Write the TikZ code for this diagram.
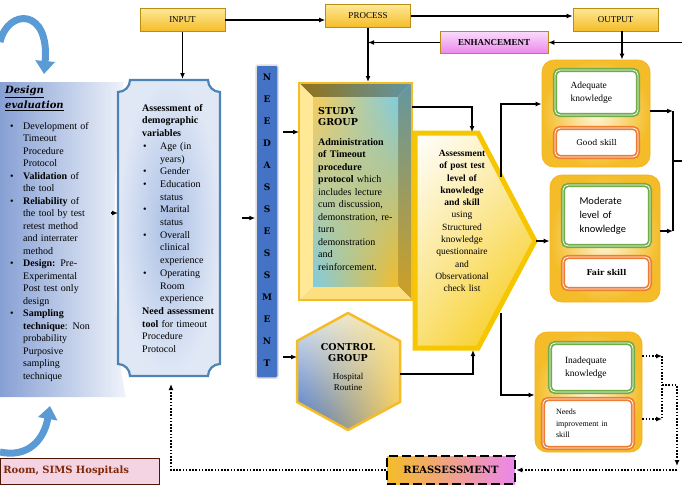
\documentclass[tikz,border=0pt]{standalone}
\usepackage{fontspec}
\setmainfont{Liberation Serif}
\newfontfamily\gruesa{DejaVu Serif}
\newfontfamily\calibri{Carlito}
\usetikzlibrary{arrows.meta,shadings}

\definecolor{oro}{RGB}{244,188,40}
\definecolor{oroclaro}{RGB}{255,232,150}
\definecolor{orooscuro}{RGB}{185,140,20}
\definecolor{rosa}{RGB}{236,135,236}
\definecolor{rosapalido}{RGB}{244,212,226}
\definecolor{azulfuerte}{RGB}{68,114,196}
\definecolor{azulmedio}{RGB}{91,155,213}
\definecolor{azuldiseno}{RGB}{135,160,212}
\definecolor{azulpalido}{RGB}{224,232,246}
\definecolor{verdecaja}{RGB}{112,173,71}
\definecolor{naranjacaja}{RGB}{237,125,49}
\definecolor{amarillo}{RGB}{246,198,0}
\definecolor{turquesa}{RGB}{128,204,224}
\definecolor{marron}{RGB}{128,40,10}

% vineta con sangria colgante
\newcommand{\punto}[2][1pt]{\par\hangindent=18pt\hangafter=1\noindent\makebox[18pt][l]{\hspace{#1}\textbullet}#2}

\begin{document}
\begin{tikzpicture}[x=1pt, y=-1pt,
  caja/.style={draw=orooscuro, line width=0.6pt, top color=oroclaro, bottom color=oro,
    minimum width=85pt, minimum height=23pt, inner sep=0pt, font=\fontsize{9}{9}\selectfont},
  flecha/.style={line width=1.3pt, -{Latex[length=6pt,width=5pt]}},
  linea/.style={line width=1.3pt},
  puntos/.style={line width=1.6pt, dash pattern=on 1.6pt off 1.6pt, -{Latex[length=6pt,width=5pt]}},
  texto/.style={inner sep=0pt, align=left, font=\fontsize{10}{12.5}\selectfont},
  letra/.style={inner sep=0pt, font=\gruesa\bfseries\fontsize{9}{9}\selectfont},
  exterior/.style={rounded corners=12pt, inner color=oroclaro!35!white, outer color=oro,
    draw=oro!85!orange, line width=0.8pt, inner sep=0pt},
  verdebox/.style={draw=verdecaja, double=white, double distance=0.8pt, line width=1.7pt,
    fill=white, rounded corners=5pt, inner sep=0pt},
  naranjabox/.style={draw=naranjacaja, double=white, double distance=0.8pt, line width=1.7pt,
    fill=white, rounded corners=5pt, inner sep=0pt}
]
\useasboundingbox (0,0) rectangle (682,498);

  % ==========================================
  % 1. FLECHAS CURVAS Y CAJA DE DISENO
  % ==========================================
  \draw[azulmedio, line width=7pt, -{Triangle[length=13pt,width=19pt]}]
    (0,42) .. controls (8,8) and (50,8) .. (44,74);
  \draw[azulmedio, line width=7pt, -{Triangle[length=13pt,width=19pt]}]
    (0,452) .. controls (28,458) and (44,440) .. (50,406);

  \shade[left color=azuldiseno, right color=azulpalido!50!white]
    (0,82) -- (124,82) .. controls (112,140) and (110,330) .. (126,397) -- (0,397) -- cycle;

  \node[texto, text width=95pt, anchor=north west] (design) at (5,86) {%
    {\gruesa\bfseries\itshape\fontsize{10}{15}\selectfont\underline{Design}\\\underline{evaluation}\par}
    \vspace{8pt}
    \punto[5pt]{Development of\newline Timeout\newline Procedure\newline Protocol}
    \punto[5pt]{\textbf{Validation} of\newline the tool}
    \punto[5pt]{\textbf{Reliability} of\newline the tool by test\newline retest method\newline and interrater\newline method}
    \punto[5pt]{\textbf{Design:} Pre-\newline Experimental\newline Post test only\newline design}
    \punto[5pt]{\textbf{Sampling}\newline\textbf{technique}: Non\newline probability\newline Purposive\newline sampling\newline technique}\par};

  % ==========================================
  % 2. VARIABLES DEMOGRAFICAS Y COLUMNA
  % ==========================================
  \shade[draw=azulmedio!85!black, line width=2.2pt, inner color=azulfuerte!45!white, outer color=azulpalido]
    (130,80) -- (208,80) arc[start angle=180, end angle=90, radius=12]
    -- (220,364) arc[start angle=270, end angle=180, radius=12]
    -- (130,376) arc[start angle=360, end angle=270, radius=12]
    -- (118,92) arc[start angle=90, end angle=0, radius=12] -- cycle;

  \node[texto, text width=82pt, anchor=north west, font=\fontsize{10}{12.7}\selectfont] (assess) at (142,104) {%
    \textbf{Assessment of\newline demographic\newline variables}
    \punto{Age (in\newline years)}
    \punto{Gender}
    \punto{Education\newline status}
    \punto{Marital\newline status}
    \punto{Overall\newline clinical\newline experience}
    \punto{Operating\newline Room\newline experience}
    \par\noindent\textbf{Need assessment}\newline\textbf{tool} for timeout\newline Procedure\newline Protocol\par};

  \node[draw=gray!25, line width=1.5pt, fill=azulfuerte, rounded corners=2pt,
    minimum width=22pt, minimum height=313pt, inner sep=0pt] (needs) at (267,221.5) {};
  \foreach \car [count=\i] in {N,E,E,D,A,S,S,E,S,S,M,E,N,T}
    \node[letra] (n\i) at (267,{55+22*\i}) {\car};

  % ==========================================
  % 3. GRUPO DE ESTUDIO (marco biselado)
  % ==========================================
  \shade[left color=oro!60!black, right color={rgb,255:red,95;green,150;blue,165}]
    (299,83) -- (412,83) -- (398,97) -- (313,97) -- cycle;
  \shade[top color={rgb,255:red,100;green,150;blue,160}, bottom color=oro!85!black]
    (412,83) -- (412,300) -- (398,286) -- (398,97) -- cycle;
  \fill[oroclaro!80!oro] (299,300) -- (412,300) -- (398,286) -- (313,286) -- cycle;
  \fill[oroclaro] (299,83) -- (313,97) -- (313,286) -- (299,300) -- cycle;
  \shade[upper left=oro!75!white, upper right=turquesa, lower left=turquesa, lower right=oro]
    (313,97) rectangle (398,286);
  \draw[oro, line width=1.2pt] (299,83) rectangle (412,300);

  \node[texto, text width=82pt, anchor=north west] (study) at (318,107) {%
    {\gruesa\bfseries\fontsize{9.5}{11.5}\selectfont STUDY\\GROUP\par}
    \vspace{7pt}
    \textbf{Administration}\newline\textbf{of Timeout}\newline\textbf{procedure}\newline\textbf{protocol} which\newline includes lecture\newline cum discussion,\newline demonstration, re-\newline turn\newline demonstration\newline and\newline reinforcement.\par};

  % ==========================================
  % 4. GRUPO CONTROL (hexagono)
  % ==========================================
  \shade[upper left=azulpalido, upper right=oroclaro, lower left=azulfuerte, lower right=oro!80!white]
    (348,313) -- (400,341) -- (400,402) -- (348,430) -- (297,402) -- (297,341) -- cycle;
  \draw[oro, line width=2.5pt, line join=round]
    (348,313) -- (400,341) -- (400,402) -- (348,430) -- (297,402) -- (297,341) -- cycle;
  \node[inner sep=0pt, text width=90pt, align=center] (control) at (348,367) {%
    {\gruesa\bfseries\fontsize{9.5}{11.5}\selectfont CONTROL\\GROUP\par}
    \vspace{7pt}
    {\fontsize{9}{11}\selectfont Hospital\\Routine\par}};

  % ==========================================
  % 5. EVALUACION POST TEST (pentagono)
  % ==========================================
  \shade[upper left=white, upper right=amarillo!30!white, lower left=amarillo!55!white, lower right=amarillo]
    (415,133) -- (478,133) -- (535,241) -- (478,348) -- (415,348) -- cycle;
  \draw[amarillo, line width=5pt, line join=miter]
    (415,133) -- (478,133) -- (535,241) -- (478,348) -- (415,348) -- cycle;
  \node[inner sep=0pt, text width=68pt, align=center, font=\fontsize{9.5}{12.3}\selectfont] (posttest) at (462,221) {%
    \textbf{Assessment\\of post test\\level of\\knowledge\\and skill}\\using\\Structured\\knowledge\\questionnaire\\and\\Observational\\check list};

  % ==========================================
  % 6. CAJAS DE RESULTADO
  % ==========================================
  \node[exterior, minimum width=108pt, minimum height=107pt] (adequate) at (596,113.5) {};
  \node[verdebox, minimum width=83pt, minimum height=45pt, text width=52pt, align=left,
    font=\fontsize{9.5}{13}\selectfont] (adeqK) at (596.5,92.5) {Adequate\\knowledge};
  \node[naranjabox, minimum width=83pt, minimum height=29pt,
    font=\gruesa\fontsize{8}{8}\selectfont] (adeqS) at (596.5,142.5) {Good skill};

  \node[exterior, minimum width=110pt, minimum height=127pt] (moderate) at (605,238.5) {};
  \node[verdebox, minimum width=87pt, minimum height=61pt, text width=54pt, align=left,
    font=\calibri\fontsize{10.5}{14}\selectfont] (modK) at (606.5,215.5) {Moderate\\level of\\knowledge};
  \node[naranjabox, minimum width=87pt, minimum height=32pt,
    font=\gruesa\bfseries\fontsize{8}{8}\selectfont] (modS) at (606.5,273) {Fair skill};

  \node[exterior, minimum width=107pt, minimum height=120pt] (inadequate) at (588.5,392) {};
  \node[verdebox, minimum width=83pt, minimum height=49pt, text width=53pt, align=left,
    font=\fontsize{9.5}{13}\selectfont] (inadK) at (591.5,367.5) {Inadequate\\knowledge};
  \node[naranjabox, minimum width=90pt, minimum height=49pt, text width=64pt, align=left,
    font=\fontsize{8}{11.5}\selectfont] (inadS) at (588,423.5) {Needs\\improvement in\\skill};

  % ==========================================
  % 7. CAJAS SUPERIORES E INFERIORES
  % ==========================================
  \node[caja] (input) at (182.5,20) {INPUT};
  \node[caja] (process) at (368,16) {PROCESS};
  \node[caja] (output) at (615.5,19.5) {OUTPUT};
  \node[caja, top color=rosa!30!white, bottom color=rosa, minimum width=108pt, minimum height=22pt,
    font=\bfseries\fontsize{9}{9}\selectfont] (enhance) at (494,42.5) {ENHANCEMENT};

  \node[draw=black, line width=2.5pt, dash pattern=on 9pt off 4pt, left color=oro, right color=rosa,
    minimum width=128pt, minimum height=28pt, inner sep=0pt,
    font=\gruesa\bfseries\fontsize{10}{10}\selectfont] (reassess) at (451,470) {REASSESSMENT};
  \node[draw=marron!60!black, line width=0.8pt, fill=rosapalido, text=marron, text width=153pt,
    align=left, minimum height=26pt, inner xsep=3pt, inner ysep=0pt, anchor=west,
    font=\gruesa\bfseries\fontsize{10}{10}\selectfont] (room) at (0,471) {Room, SIMS Hospitals};

  % ==========================================
  % 8. CONECTORES
  % ==========================================
  \coordinate (plaqueN) at (182.5,79);
  \coordinate (plaqueW) at (118,213);
  \coordinate (plaqueE) at (220,218);
  \coordinate (designE) at (111,213);
  \coordinate (studyN) at (368,82);
  \coordinate (studyW) at (299,132);
  \coordinate (studyE) at (412,107);
  \coordinate (ctrlW) at (297,357);
  \coordinate (ctrlE) at (400,374);
  \coordinate (postN) at (472,132);
  \coordinate (postS) at (473,350);
  \coordinate (postUp) at (501,177);
  \coordinate (postTip) at (536,241);
  \coordinate (postLow) at (501,313);
  \coordinate (outBase) at (622,31);
  \coordinate (bordeA) at (682,42.5);
  \coordinate (bordeB) at (682,161);
  \coordinate (juntaR) at (673,161);
  \coordinate (bracketTop) at (673,111);
  \coordinate (bracketBot) at (673,231);

  \draw[flecha] (input.east) -- (input.east -| process.west);
  \draw[flecha] (process.east) -- (process.east -| output.west);
  \draw[flecha] (input.south) -- (plaqueN);
  \draw[flecha] (bordeA) -- (enhance.east);
  \draw[flecha] (enhance.west) -- (enhance.west -| process.south);
  \draw[flecha] (process.south) -- (studyN);
  \draw[flecha] (outBase) -- (outBase |- adequate.north);

  \draw[flecha] (designE) -- (plaqueW);
  \draw[flecha, shorten <=22pt] (plaqueE) -- (needs.west |- plaqueE);
  \draw[flecha, shorten <=4pt] (needs.east |- studyW) -- (studyW);
  \draw[flecha, shorten <=4pt] (needs.east |- ctrlW) -- (ctrlW);

  \draw[flecha] (studyE) -| (postN);
  \draw[flecha] (ctrlE) -| (postS);
  \draw[flecha] (postUp) |- ([yshift=9.5pt]adequate.west);
  \draw[flecha] (postTip) -- (moderate.west |- postTip);
  \draw[flecha] (postLow) |- ([yshift=-3pt]inadequate.west);

  \draw[flecha] (adequate.east |- bracketTop) -- (bracketTop);
  \draw[flecha] (moderate.east |- bracketBot) -- (bracketBot);
  \draw[linea] (bracketTop) -- (bracketBot);
  \draw[linea] (juntaR) -- (bordeB);

  % lazo punteado de reevaluacion
  \coordinate (d1) at (662,356);
  \coordinate (d2) at (662,419);
  \coordinate (d3) at (662,385);
  \coordinate (d4) at (677,385);
  \coordinate (d5) at (677,466);
  \coordinate (d6) at (677,470);
  \coordinate (d8) at (171,384);
  \draw[puntos] (inadequate.east |- d1) -- (d1);
  \draw[puntos] (inadequate.east |- d2) -- (d2);
  \draw[puntos, -] (d1) -- (d2);
  \draw[puntos] (d3) -- (d4) -- (d5);
  \draw[puntos] (d6) -- (reassess.east);
  \draw[puntos] (reassess.west) -| (d8);

\end{tikzpicture}
\end{document}
